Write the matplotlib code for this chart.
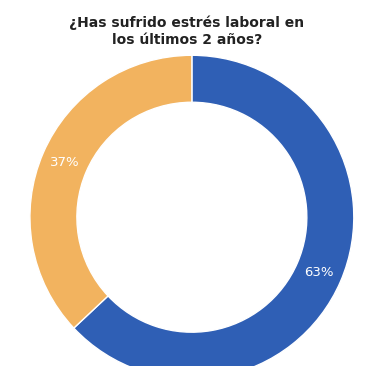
import matplotlib.pyplot as plt

labels = ["Sí", "No"]
values = [63, 37]
colors = ["#2f5fb5", "#f2b35f"]

fig = plt.figure(figsize=(3.74, 3.66), dpi=100)
ax = fig.add_axes([0.080, -0.036, 0.866, 0.885])

wedges, texts, autotexts = ax.pie(
    values, colors=colors, startangle=90, counterclock=False,
    autopct="%d%%", pctdistance=0.855,
    wedgeprops=dict(width=0.29, edgecolor="white", linewidth=1),
    textprops=dict(color="white", fontsize=9.5),
)
ax.set_xlim(-1, 1)
ax.set_ylim(-1, 1)
ax.set_aspect("equal")

fig.text(0.5, 0.915, "¿Has sufrido estrés laboral en\nlos últimos 2 años?",
         ha="center", va="center", fontsize=10, fontweight="bold",
         color="#222222", linespacing=1.25)

fig.savefig("out.png", dpi=100)
